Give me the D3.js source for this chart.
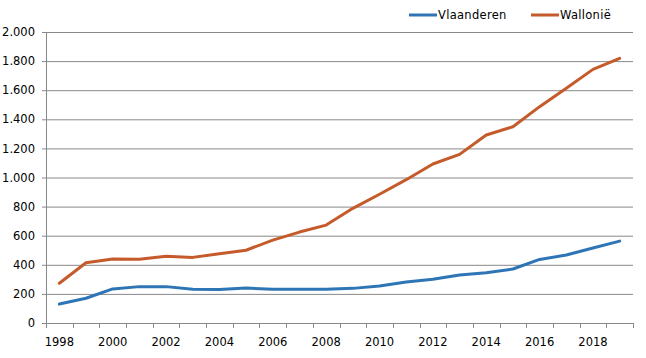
<!DOCTYPE html>
<html><head><meta charset="utf-8">
<script src="https://cdn.jsdelivr.net/npm/d3@7"></script>
<style>body{margin:0;background:#fff}svg{display:block}text{font-family:"DejaVu Sans",Verdana,sans-serif;fill:#000}</style>
</head><body>
<svg id="c" width="646" height="358"></svg>
<script>
const years = [1998,1999,2000,2001,2002,2003,2004,2005,2006,2007,2008,2009,2010,2011,2012,2013,2014,2015,2016,2017,2018,2019];
const vlaanderen = [130,170,234,250,250,232,230,240,232,232,232,238,254,282,300,330,346,371,437,467,515,563];
const wallonie = [273,414,440,438,458,451,476,500,570,625,673,788,885,985,1093,1159,1292,1349,1487,1613,1743,1819];
const yTicks = [0,200,400,600,800,1000,1200,1400,1600,1800,2000];
const seriesNames = ["Vlaanderen","Wallonië"];
const colors = ["#2e75b6","#c55a2a"];

(function(){
const svg = d3.select("#c");
const pL = 46, pR = 633, pT = 32, pB = 323;
const x = d3.scaleBand().domain(years).range([pL, pR]);
const y = d3.scaleLinear().domain([0,2000]).range([pB, pT]);
const fmt = v => d3.format(",")(v).replace(/,/g, ".");

const ya = svg.append("g").attr("transform", `translate(${pL},0)`)
  .call(d3.axisLeft(y).tickValues(yTicks).tickFormat(fmt).tickSize(4).tickPadding(7));
ya.select(".domain").attr("stroke", "#898989");
ya.selectAll(".tick line").attr("stroke", "#898989");
ya.selectAll(".tick text").attr("font-size", 11.5).attr("font-family", "DejaVu Sans");
svg.append("g").selectAll("line").data(yTicks.filter(d => d > 0)).join("line")
  .attr("x1", pL).attr("x2", pR).attr("y1", d => y(d)+0.5).attr("y2", d => y(d)+0.5)
  .attr("stroke", "#898989").attr("stroke-width", 1);

const xa = svg.append("g").attr("transform", `translate(0,${pB})`);
xa.append("line").attr("x1", pL).attr("x2", pR).attr("y1", 0.5).attr("y2", 0.5).attr("stroke", "#898989");
const edges = years.map(d => x(d)).concat([pR]);
xa.selectAll("line.t").data(edges).join("line").attr("class","t")
  .attr("x1", d => Math.round(d)+0.5).attr("x2", d => Math.round(d)+0.5).attr("y1", 0).attr("y2", 5).attr("stroke", "#898989");
xa.selectAll("text").data(years.filter((d,i) => i % 2 === 0)).join("text")
  .attr("x", d => x(d) + x.bandwidth()/2).attr("y", 23).attr("text-anchor", "middle")
  .attr("font-size", 11.5).text(d => d);

const line = d3.line().x((d,i) => x(years[i]) + x.bandwidth()/2).y(d => y(d));
[vlaanderen, wallonie].forEach((s, k) => {
  svg.append("path").datum(s).attr("d", line).attr("fill", "none")
    .attr("stroke", colors[k]).attr("stroke-width", 3).attr("stroke-linejoin", "round").attr("stroke-linecap", "round");
});

const lx = [409, 531];
seriesNames.forEach((n, k) => {
  svg.append("line").attr("x1", lx[k]).attr("x2", lx[k]+28).attr("y1", 15).attr("y2", 15)
    .attr("stroke", colors[k]).attr("stroke-width", 3);
  svg.append("text").attr("x", lx[k]+29).attr("y", 19).attr("font-size", 11.5).attr("letter-spacing", 0.3).text(n);
});
})();
</script>
</body></html>
